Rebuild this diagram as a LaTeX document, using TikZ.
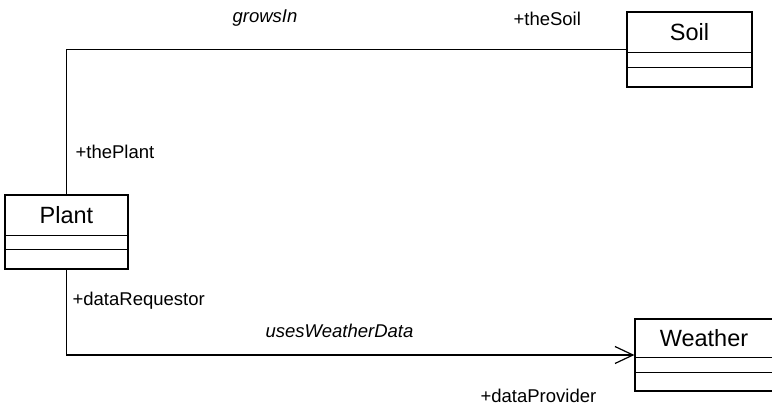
\documentclass[tikz,border=0pt]{standalone}
\usepackage{fontspec}
\setmainfont{Liberation Sans}
\usetikzlibrary{arrows.meta}

\begin{document}
\begin{tikzpicture}
	[
		x=1pt,
		y=-1pt,
		line width=1.2pt,
		classbox/.style={draw, inner sep=0pt, minimum width=123pt, minimum height=74pt},
		classname/.style={inner sep=0pt, font=\fontsize{23.5}{28}\selectfont},
		role/.style={anchor=base west, inner sep=0pt, font=\fontsize{18.5}{22}\selectfont},
		assoc/.style={role, font=\fontsize{18.5}{22}\selectfont\itshape},
		>={Straight Barb[length=18pt,width=17pt]}
	]
		\useasboundingbox (0,0) rectangle (772,411);
		% classes
		\node [classbox] (plant) at (66.5,232) {};
		\node [classbox, minimum width=125pt, minimum height=75pt] (soil) at (689.5,49.5) {};
		\node [classbox, minimum width=142pt, minimum height=72pt] (weather) at (706,355) {};
		\node [classname] (plantname) at ([yshift=-20.5pt]plant.north) {Plant};
		\node [classname] (soilname) at ([yshift=-20.5pt]soil.north) {Soil};
		\node [classname] (weathername) at ([xshift=-2pt,yshift=-19.5pt]weather.north) {Weather};
		\draw ([yshift=-41pt]plant.north west) -- ([yshift=-41pt]plant.north east);
		\draw ([yshift=-55pt]plant.north west) -- ([yshift=-55pt]plant.north east);
		\draw ([yshift=-41pt]soil.north west) -- ([yshift=-41pt]soil.north east);
		\draw ([yshift=-56pt]soil.north west) -- ([yshift=-56pt]soil.north east);
		\draw ([yshift=-39pt]weather.north west) -- ([yshift=-39pt]weather.north east);
		\draw ([yshift=-54pt]weather.north west) -- ([yshift=-54pt]weather.north east);
		% associations
		\draw (plant.north) |- (soil.west);
		\draw [->] (plant.south) |- (weather.west);
		\node [assoc] (growsin) at (232,23) {growsIn};
		\node [role] (thesoil) at (513,26) {+theSoil};
		\node [role] (theplant) at (75,159) {+thePlant};
		\node [role] (datarequestor) at (72,306) {+dataRequestor};
		\node [assoc] (usesweather) at (265,338) {usesWeatherData};
		\node [role] (dataprovider) at (480,403) {+dataProvider};
	\end{tikzpicture}
\end{document}
